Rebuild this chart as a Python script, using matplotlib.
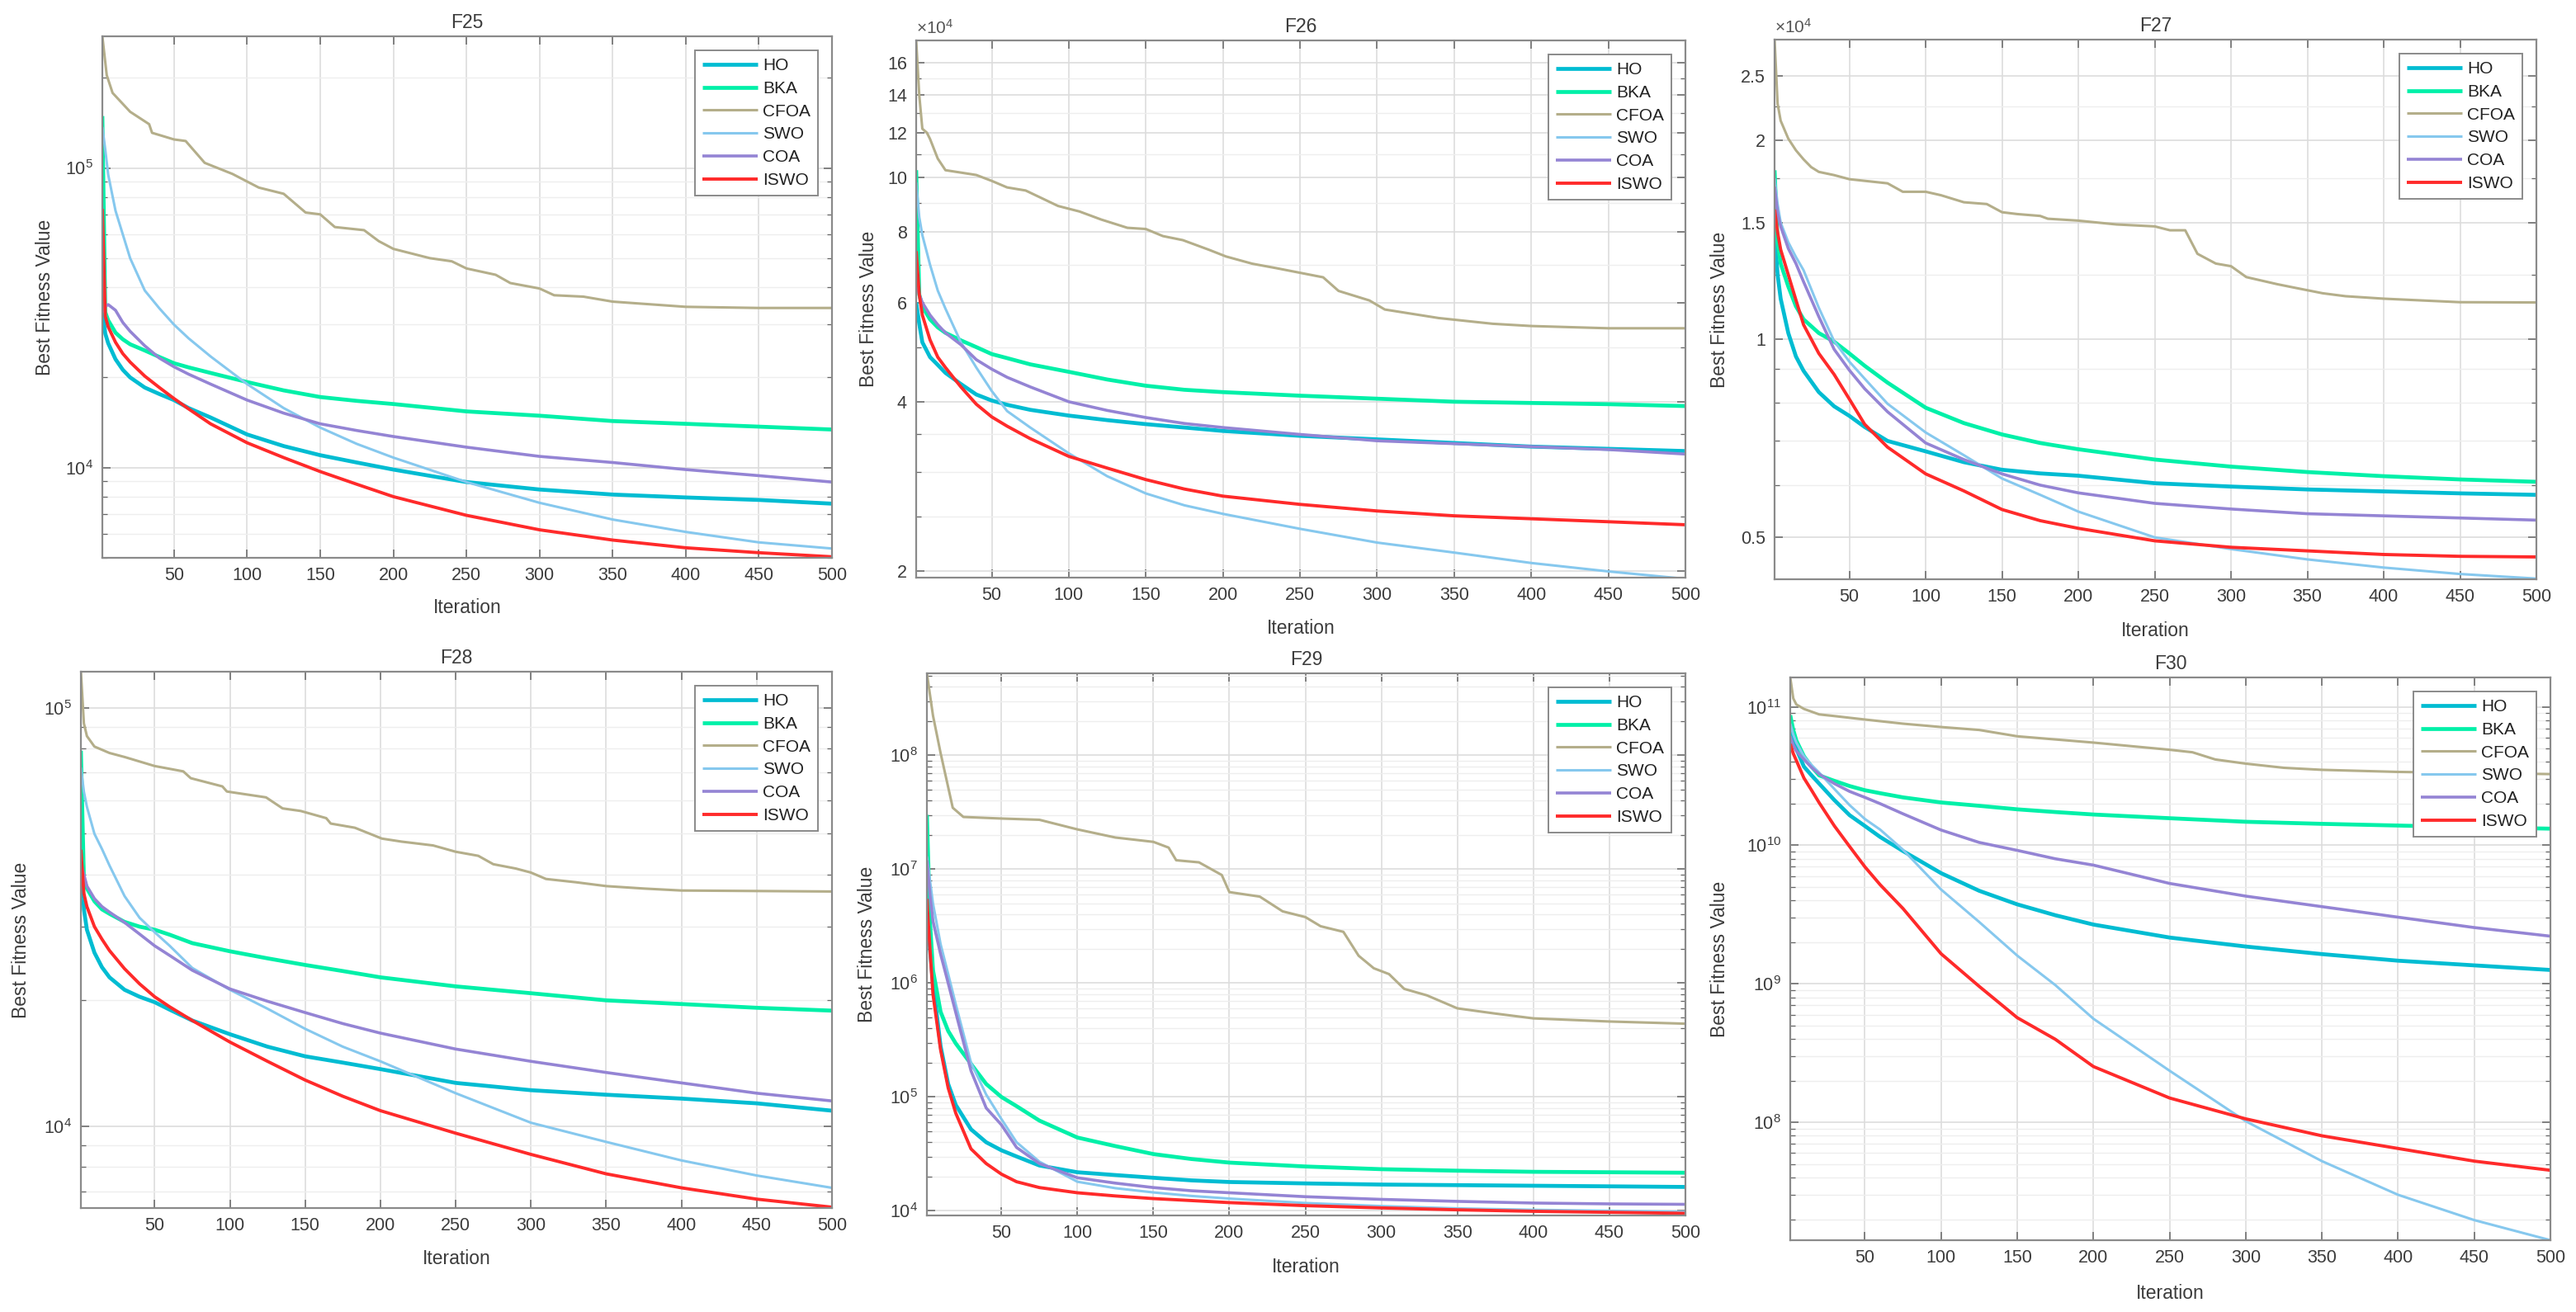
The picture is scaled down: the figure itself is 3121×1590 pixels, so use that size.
import numpy as np
import matplotlib
matplotlib.use('Agg')
import matplotlib.pyplot as plt
from matplotlib.ticker import FixedLocator, FixedFormatter, LogLocator, NullFormatter, LogFormatterSciNotation

plt.rcParams['font.family'] = ['Liberation Sans', 'DejaVu Sans']
plt.rcParams['mathtext.default'] = 'regular'

ALGOS = ['HO', 'BKA', 'CFOA', 'SWO', 'COA', 'ISWO']
ITER = [1, 3, 5, 10, 15, 20, 30, 40, 50, 60, 75, 100, 125, 150, 175, 200, 250, 300, 350, 400, 450, 500]

# ---------------- F25 ----------------
F25_HO = [3.4e4, 2.8e4, 2.6e4, 2.3e4, 2.12e4, 2.0e4, 1.85e4, 1.76e4, 1.68e4, 1.58e4, 1.47e4, 1.29e4, 1.18e4, 1.10e4, 1.04e4, 9.85e3, 8.95e3, 8.45e3, 8.13e3, 7.95e3, 7.8e3, 7.58e3]
F25_BKA = [1.49e5, 3.3e4, 3.1e4, 2.82e4, 2.68e4, 2.58e4, 2.46e4, 2.34e4, 2.23e4, 2.16e4, 2.07e4, 1.93e4, 1.81e4, 1.72e4, 1.67e4, 1.63e4, 1.54e4, 1.49e4, 1.43e4, 1.40e4, 1.37e4, 1.34e4]
F25_SWO = [1.37e5, 1.15e5, 9.5e4, 7.2e4, 6.0e4, 5.0e4, 3.9e4, 3.4e4, 3.0e4, 2.7e4, 2.35e4, 1.9e4, 1.58e4, 1.36e4, 1.2e4, 1.08e4, 8.95e3, 7.63e3, 6.71e3, 6.1e3, 5.63e3, 5.37e3]
F25_COA = [3.3e4, 3.45e4, 3.5e4, 3.35e4, 3.05e4, 2.85e4, 2.55e4, 2.32e4, 2.17e4, 2.05e4, 1.9e4, 1.68e4, 1.52e4, 1.40e4, 1.33e4, 1.27e4, 1.17e4, 1.09e4, 1.04e4, 9.85e3, 9.4e3, 8.95e3]
F25_ISWO = [7.3e4, 3.2e4, 2.95e4, 2.62e4, 2.4e4, 2.25e4, 2.02e4, 1.85e4, 1.7e4, 1.57e4, 1.40e4, 1.21e4, 1.08e4, 9.7e3, 8.8e3, 8.0e3, 6.93e3, 6.2e3, 5.73e3, 5.4e3, 5.2e3, 5.04e3]
F25_CFOA_ITER = [1, 4, 8, 20, 33, 35, 50, 58, 71, 90, 108, 125, 140, 150, 160, 180, 190, 200, 225, 240, 250, 270, 280, 300, 310, 330, 350, 400, 450, 500]
F25_CFOA = [2.75e5, 2.04e5, 1.78e5, 1.54e5, 1.40e5, 1.31e5, 1.245e5, 1.23e5, 1.04e5, 9.55e4, 8.6e4, 8.2e4, 7.1e4, 7.0e4, 6.35e4, 6.2e4, 5.7e4, 5.37e4, 5.0e4, 4.88e4, 4.62e4, 4.4e4, 4.13e4, 3.96e4, 3.76e4, 3.72e4, 3.58e4, 3.44e4, 3.41e4, 3.41e4]

# ---------------- F26 ----------------
F26_HO = [6.0e4, 5.5e4, 5.1e4, 4.8e4, 4.65e4, 4.5e4, 4.3e4, 4.12e4, 4.02e4, 3.95e4, 3.87e4, 3.78e4, 3.71e4, 3.65e4, 3.6e4, 3.55e4, 3.48e4, 3.43e4, 3.38e4, 3.33e4, 3.3e4, 3.27e4]
F26_BKA = [1.03e5, 6.2e4, 5.9e4, 5.6e4, 5.42e4, 5.3e4, 5.14e4, 5.0e4, 4.86e4, 4.78e4, 4.66e4, 4.52e4, 4.38e4, 4.27e4, 4.2e4, 4.16e4, 4.1e4, 4.05e4, 4.0e4, 3.98e4, 3.96e4, 3.93e4]
F26_SWO = [9.8e4, 8.5e4, 7.9e4, 7.0e4, 6.3e4, 5.85e4, 5.1e4, 4.6e4, 4.18e4, 3.85e4, 3.6e4, 3.24e4, 2.95e4, 2.75e4, 2.62e4, 2.53e4, 2.38e4, 2.25e4, 2.16e4, 2.07e4, 2.0e4, 1.94e4]
F26_COA = [6.5e4, 6.2e4, 6.0e4, 5.7e4, 5.48e4, 5.3e4, 5.05e4, 4.75e4, 4.57e4, 4.42e4, 4.25e4, 4.0e4, 3.86e4, 3.75e4, 3.66e4, 3.6e4, 3.5e4, 3.41e4, 3.37e4, 3.33e4, 3.29e4, 3.23e4]
F26_ISWO = [7.4e4, 6.2e4, 5.7e4, 5.15e4, 4.8e4, 4.6e4, 4.25e4, 3.96e4, 3.76e4, 3.62e4, 3.44e4, 3.2e4, 3.05e4, 2.91e4, 2.8e4, 2.72e4, 2.63e4, 2.56e4, 2.51e4, 2.48e4, 2.45e4, 2.42e4]
F26_CFOA_ITER = [1, 3, 5, 8, 10, 15, 20, 30, 40, 50, 60, 72, 82, 93, 107, 121, 138, 150, 161, 174, 191, 202, 219, 235, 265, 275, 295, 305, 340, 375, 400, 450, 500]
F26_CFOA = [1.75e5, 1.4e5, 1.22e5, 1.2e5, 1.17e5, 1.08e5, 1.03e5, 1.02e5, 1.01e5, 9.86e4, 9.6e4, 9.48e4, 9.2e4, 8.9e4, 8.7e4, 8.42e4, 8.14e4, 8.1e4, 7.87e4, 7.74e4, 7.44e4, 7.24e4, 7.03e4, 6.9e4, 6.65e4, 6.29e4, 6.05e4, 5.83e4, 5.63e4, 5.5e4, 5.45e4, 5.4e4, 5.4e4]

# ---------------- F27 ----------------
F27_HO = [1.45e4, 1.25e4, 1.15e4, 1.02e4, 9.4e3, 8.94e3, 8.3e3, 7.9e3, 7.64e3, 7.35e3, 7.0e3, 6.75e3, 6.5e3, 6.33e3, 6.25e3, 6.2e3, 6.04e3, 5.97e3, 5.91e3, 5.87e3, 5.83e3, 5.8e3]
F27_BKA = [1.80e4, 1.4e4, 1.3e4, 1.2e4, 1.12e4, 1.07e4, 1.02e4, 9.9e3, 9.5e3, 9.1e3, 8.58e3, 7.86e3, 7.45e3, 7.16e3, 6.95e3, 6.8e3, 6.56e3, 6.4e3, 6.28e3, 6.19e3, 6.12e3, 6.07e3]
F27_SWO = [1.75e4, 1.6e4, 1.5e4, 1.40e4, 1.33e4, 1.27e4, 1.114e4, 9.92e3, 9.23e3, 8.7e3, 7.97e3, 7.21e3, 6.66e3, 6.14e3, 5.8e3, 5.47e3, 5.0e3, 4.8e3, 4.63e3, 4.5e3, 4.4e3, 4.33e3]
F27_COA = [1.7e4, 1.55e4, 1.48e4, 1.37e4, 1.3e4, 1.22e4, 1.08e4, 9.64e3, 8.96e3, 8.4e3, 7.75e3, 6.95e3, 6.56e3, 6.24e3, 6.0e3, 5.84e3, 5.63e3, 5.52e3, 5.43e3, 5.39e3, 5.35e3, 5.31e3]
F27_ISWO = [1.57e4, 1.45e4, 1.365e4, 1.25e4, 1.145e4, 1.05e4, 9.5e3, 8.83e3, 8.1e3, 7.42e3, 6.85e3, 6.24e3, 5.88e3, 5.51e3, 5.3e3, 5.16e3, 4.94e3, 4.83e3, 4.77e3, 4.71e3, 4.68e3, 4.67e3]
F27_CFOA_ITER = [1, 3, 5, 10, 15, 20, 25, 30, 40, 50, 75, 85, 100, 110, 125, 140, 150, 160, 175, 180, 200, 225, 250, 260, 270, 278, 290, 300, 310, 330, 340, 360, 375, 400, 450, 500]
F27_CFOA = [2.84e4, 2.27e4, 2.14e4, 2.01e4, 1.93e4, 1.87e4, 1.82e4, 1.79e4, 1.77e4, 1.745e4, 1.72e4, 1.67e4, 1.67e4, 1.65e4, 1.61e4, 1.6e4, 1.555e4, 1.545e4, 1.535e4, 1.52e4, 1.51e4, 1.49e4, 1.48e4, 1.46e4, 1.46e4, 1.345e4, 1.30e4, 1.288e4, 1.24e4, 1.21e4, 1.197e4, 1.172e4, 1.16e4, 1.15e4, 1.136e4, 1.135e4]

# ---------------- F28 ----------------
F28_HO = [4.9e4, 3.3e4, 2.95e4, 2.6e4, 2.4e4, 2.27e4, 2.12e4, 2.04e4, 1.98e4, 1.9e4, 1.79e4, 1.66e4, 1.55e4, 1.47e4, 1.42e4, 1.37e4, 1.27e4, 1.22e4, 1.19e4, 1.165e4, 1.135e4, 1.09e4]
F28_BKA = [7.9e4, 3.9e4, 3.7e4, 3.45e4, 3.3e4, 3.22e4, 3.08e4, 3.0e4, 2.95e4, 2.87e4, 2.74e4, 2.62e4, 2.52e4, 2.43e4, 2.35e4, 2.27e4, 2.16e4, 2.08e4, 2.0e4, 1.96e4, 1.92e4, 1.89e4]
F28_SWO = [7.2e4, 6.3e4, 5.8e4, 5.0e4, 4.6e4, 4.2e4, 3.55e4, 3.15e4, 2.91e4, 2.7e4, 2.39e4, 2.12e4, 1.91e4, 1.71e4, 1.55e4, 1.43e4, 1.2e4, 1.02e4, 9.18e3, 8.29e3, 7.63e3, 7.13e3]
F28_COA = [4.25e4, 4.0e4, 3.75e4, 3.5e4, 3.35e4, 3.25e4, 3.07e4, 2.88e4, 2.7e4, 2.56e4, 2.36e4, 2.13e4, 1.99e4, 1.87e4, 1.76e4, 1.67e4, 1.53e4, 1.43e4, 1.345e4, 1.27e4, 1.2e4, 1.15e4]
F28_ISWO = [4.58e4, 3.6e4, 3.35e4, 3.0e4, 2.8e4, 2.63e4, 2.38e4, 2.19e4, 2.04e4, 1.93e4, 1.79e4, 1.59e4, 1.43e4, 1.29e4, 1.18e4, 1.09e4, 9.63e3, 8.57e3, 7.7e3, 7.13e3, 6.7e3, 6.41e3]
F28_CFOA_ITER = [1, 3, 5, 10, 20, 30, 50, 69, 74, 95, 98, 124, 135, 147, 164, 167, 183, 201, 214, 235, 250, 265, 275, 290, 300, 310, 330, 350, 375, 400, 450, 500]
F28_CFOA = [1.22e5, 9.18e4, 8.56e4, 8.08e4, 7.8e4, 7.63e4, 7.26e4, 7.05e4, 6.79e4, 6.49e4, 6.31e4, 6.11e4, 5.75e4, 5.67e4, 5.45e4, 5.29e4, 5.17e4, 4.87e4, 4.79e4, 4.69e4, 4.53e4, 4.43e4, 4.23e4, 4.13e4, 4.04e4, 3.9e4, 3.83e4, 3.75e4, 3.7e4, 3.66e4, 3.65e4, 3.64e4]

# ---------------- F29 ----------------
F29_HO = [6e6, 2e6, 1e6, 2.8e5, 1.3e5, 8.5e4, 5.2e4, 4.0e4, 3.4e4, 3.0e4, 2.5e4, 2.18e4, 2.06e4, 1.95e4, 1.85e4, 1.79e4, 1.74e4, 1.7e4, 1.68e4, 1.66e4, 1.64e4, 1.62e4]
F29_BKA = [3.0e7, 3.5e6, 1.3e6, 5.6e5, 3.8e5, 2.95e5, 1.95e5, 1.3e5, 1.0e5, 8.3e4, 6.2e4, 4.4e4, 3.7e4, 3.15e4, 2.85e4, 2.65e4, 2.45e4, 2.32e4, 2.25e4, 2.2e4, 2.18e4, 2.16e4]
F29_SWO = [1.3e7, 8e6, 5e6, 2.2e6, 1.2e6, 6.5e5, 2.0e5, 1.05e5, 6.4e4, 4.0e4, 2.7e4, 1.8e4, 1.58e4, 1.45e4, 1.35e4, 1.28e4, 1.17e4, 1.1e4, 1.05e4, 1.02e4, 1.0e4, 9.8e3]
F29_COA = [1.2e7, 6e6, 3.5e6, 1.8e6, 1.0e6, 5.5e5, 1.7e5, 8e4, 5.7e4, 3.6e4, 2.6e4, 1.95e4, 1.75e4, 1.6e4, 1.5e4, 1.44e4, 1.33e4, 1.26e4, 1.21e4, 1.17e4, 1.15e4, 1.14e4]
F29_ISWO = [5.5e6, 2.0e6, 8e5, 2.6e5, 1.2e5, 7.2e4, 3.5e4, 2.6e4, 2.1e4, 1.8e4, 1.6e4, 1.44e4, 1.35e4, 1.28e4, 1.23e4, 1.18e4, 1.11e4, 1.06e4, 1.02e4, 9.9e3, 9.7e3, 9.5e3]
F29_CFOA_ITER = [1, 5, 10, 18, 25, 50, 75, 100, 125, 150, 160, 165, 180, 195, 200, 220, 235, 250, 260, 275, 285, 295, 305, 315, 330, 350, 375, 400, 450, 500]
F29_CFOA = [5.26e8, 2.24e8, 1.05e8, 3.47e7, 2.88e7, 2.79e7, 2.72e7, 2.24e7, 1.9e7, 1.74e7, 1.55e7, 1.2e7, 1.15e7, 8.9e6, 6.3e6, 5.75e6, 4.27e6, 3.8e6, 3.16e6, 2.82e6, 1.74e6, 1.35e6, 1.2e6, 8.9e5, 7.8e5, 6.0e5, 5.4e5, 4.9e5, 4.6e5, 4.4e5]

# ---------------- F30 ----------------
F30_HO = [7.05e10, 5.8e10, 4.97e10, 3.7e10, 3.2e10, 2.79e10, 2.12e10, 1.65e10, 1.38e10, 1.15e10, 9.1e9, 6.3e9, 4.7e9, 3.75e9, 3.13e9, 2.68e9, 2.16e9, 1.86e9, 1.64e9, 1.47e9, 1.36e9, 1.26e9]
F30_BKA = [8.7e10, 6.8e10, 5.71e10, 4.4e10, 3.7e10, 3.2e10, 2.92e10, 2.68e10, 2.5e10, 2.38e10, 2.22e10, 2.04e10, 1.93e10, 1.82e10, 1.74e10, 1.67e10, 1.57e10, 1.48e10, 1.43e10, 1.39e10, 1.35e10, 1.32e10]
F30_SWO = [7.56e10, 6.3e10, 5.52e10, 4.4e10, 3.8e10, 3.35e10, 2.55e10, 1.95e10, 1.55e10, 1.3e10, 9.3e9, 4.8e9, 2.8e9, 1.6e9, 9.8e8, 5.6e8, 2.36e8, 1.02e8, 5.25e7, 3.0e7, 1.97e7, 1.41e7]
F30_COA = [6.13e10, 5.3e10, 4.8e10, 4.17e10, 3.65e10, 3.27e10, 2.79e10, 2.45e10, 2.22e10, 2.0e10, 1.69e10, 1.29e10, 1.05e10, 9.2e9, 8.0e9, 7.2e9, 5.31e9, 4.3e9, 3.61e9, 3.03e9, 2.55e9, 2.21e9]
F30_ISWO = [5.4e10, 4.6e10, 4.1e10, 3.06e10, 2.5e10, 2.03e10, 1.38e10, 9.8e9, 7.0e9, 5.2e9, 3.5e9, 1.65e9, 9.6e8, 5.7e8, 3.98e8, 2.53e8, 1.5e8, 1.06e8, 8.0e7, 6.48e7, 5.25e7, 4.51e7]
F30_CFOA_ITER = [1, 3, 5, 10, 20, 30, 50, 75, 100, 125, 150, 200, 250, 265, 280, 300, 325, 350, 400, 450, 500]
F30_CFOA = [1.63e11, 1.15e11, 1.04e11, 9.66e10, 8.82e10, 8.58e10, 8.1e10, 7.56e10, 7.15e10, 6.81e10, 6.13e10, 5.52e10, 4.9e10, 4.7e10, 4.17e10, 3.89e10, 3.63e10, 3.51e10, 3.39e10, 3.33e10, 3.27e10]

COLORS = {'HO': '#00BCD2', 'BKA': '#00F0A8', 'CFOA': '#B4AE8A', 'SWO': '#86C8EE', 'COA': '#9484D4', 'ISWO': '#FF2A2A'}
WIDTHS = {'HO': 3.4, 'BKA': 3.4, 'CFOA': 2.2, 'SWO': 2.2, 'COA': 2.6, 'ISWO': 2.8}

W, H = 3121, 1590
fig = plt.figure(figsize=(W / 100, H / 100), dpi=100)

PANELS = [
    dict(title='F25', box=(124, 1008, 44, 676), ylim=(5.0e3, 2.75e5),
         data=dict(HO=F25_HO, BKA=F25_BKA, SWO=F25_SWO, COA=F25_COA, ISWO=F25_ISWO),
         cfoa=(F25_CFOA_ITER, F25_CFOA), ticks=None, ylx=-0.079),
    dict(title='F26', box=(1110, 2042, 49, 700), ylim=(1.95e4, 1.75e5),
         data=dict(HO=F26_HO, BKA=F26_BKA, SWO=F26_SWO, COA=F26_COA, ISWO=F26_ISWO),
         cfoa=(F26_CFOA_ITER, F26_CFOA),
         ticks=([2, 4, 6, 8, 10, 12, 14, 16], [2.5, 3, 3.5, 5, 7, 9, 11, 13, 15]), ylx=-0.062),
    dict(title='F27', box=(2150, 3073, 48, 702), ylim=(4.32e3, 2.84e4),
         data=dict(HO=F27_HO, BKA=F27_BKA, SWO=F27_SWO, COA=F27_COA, ISWO=F27_ISWO),
         cfoa=(F27_CFOA_ITER, F27_CFOA),
         ticks=([0.5, 1, 1.5, 2, 2.5], [0.6, 0.7, 0.8, 0.9, 1.25, 1.75, 2.25]), ylx=-0.072),
    dict(title='F28', box=(98, 1008, 814, 1464), ylim=(6.38e3, 1.22e5),
         data=dict(HO=F28_HO, BKA=F28_BKA, SWO=F28_SWO, COA=F28_COA, ISWO=F28_ISWO),
         cfoa=(F28_CFOA_ITER, F28_CFOA), ticks=None, ylx=-0.080),
    dict(title='F29', box=(1123, 2042, 816, 1473), ylim=(9.1e3, 5.26e8),
         data=dict(HO=F29_HO, BKA=F29_BKA, SWO=F29_SWO, COA=F29_COA, ISWO=F29_ISWO),
         cfoa=(F29_CFOA_ITER, F29_CFOA), ticks=None, ylx=-0.079),
    dict(title='F30', box=(2169, 3090, 821, 1503), ylim=(1.41e7, 1.63e11),
         data=dict(HO=F30_HO, BKA=F30_BKA, SWO=F30_SWO, COA=F30_COA, ISWO=F30_ISWO),
         cfoa=(F30_CFOA_ITER, F30_CFOA), ticks=None, ylx=-0.093),
]

TXT = '#3C3C3C'
for p in PANELS:
    l, r, t, b = p['box']
    ax = fig.add_axes([l / W, 1 - b / H, (r - l) / W, (b - t) / H])
    for name in ALGOS:
        if name == 'CFOA':
            xs, ys = p['cfoa']
        else:
            xs, ys = ITER, p['data'][name]
        ax.plot(xs, ys, color=COLORS[name], lw=WIDTHS[name], label=name, solid_capstyle='butt')
    ax.set_yscale('log')
    ax.set_xlim(1, 500)
    ax.set_ylim(*p['ylim'])
    ax.set_xticks([50, 100, 150, 200, 250, 300, 350, 400, 450, 500])
    if p['ticks'] is not None:
        major, minor = p['ticks']
        ax.yaxis.set_major_locator(FixedLocator([v * 1e4 for v in major]))
        ax.yaxis.set_major_formatter(FixedFormatter([('%g' % v) for v in major]))
        ax.yaxis.set_minor_locator(FixedLocator([v * 1e4 for v in minor]))
        ax.yaxis.set_minor_formatter(NullFormatter())
        ax.text(0.0, 1.006, r'$\times10^{4}$', transform=ax.transAxes, ha='left', va='bottom',
                fontsize=15, color='#555555')
    else:
        ax.yaxis.set_major_locator(LogLocator(base=10, numticks=20))
        ax.yaxis.set_major_formatter(LogFormatterSciNotation())
        ax.yaxis.set_minor_locator(LogLocator(base=10, subs=np.arange(2, 10), numticks=20))
        ax.yaxis.set_minor_formatter(NullFormatter())
    ax.grid(True, which='major', color='#DDDDDD', lw=1.2)
    ax.grid(True, which='minor', axis='y', color='#EEEEEE', lw=1.0)
    ax.set_axisbelow(True)
    ax.tick_params(which='both', direction='in', top=True, right=True, colors='#666666',
                   labelcolor=TXT, labelsize=15.5)
    ax.tick_params(which='major', length=7, width=1.1, pad=8)
    ax.tick_params(which='minor', length=4, width=0.9)
    for s in ax.spines.values():
        s.set_color('#8A8A8A')
        s.set_linewidth(1.6)
    ax.set_title(p['title'], fontsize=16.5, color=TXT, pad=7)
    ax.set_xlabel('Iteration', fontsize=16.5, color=TXT)
    ax.xaxis.set_label_coords(0.5, -0.095)
    ax.xaxis.label.set_va('center')
    ax.set_ylabel('Best Fitness Value', fontsize=16.5, color=TXT)
    ax.yaxis.set_label_coords(p['ylx'], 0.5)
    ax.yaxis.label.set_va('center')
    leg = ax.legend(loc='upper right', fontsize=15, frameon=True, fancybox=False, framealpha=1,
                    edgecolor='#8A8A8A', handlelength=3.2, labelspacing=0.42, borderaxespad=0.8,
                    handletextpad=0.3, borderpad=0.45)
    leg.get_frame().set_linewidth(1.4)
    for txt in leg.get_texts():
        txt.set_color('#222222')

fig.savefig('out.png', dpi=100, facecolor='white')
